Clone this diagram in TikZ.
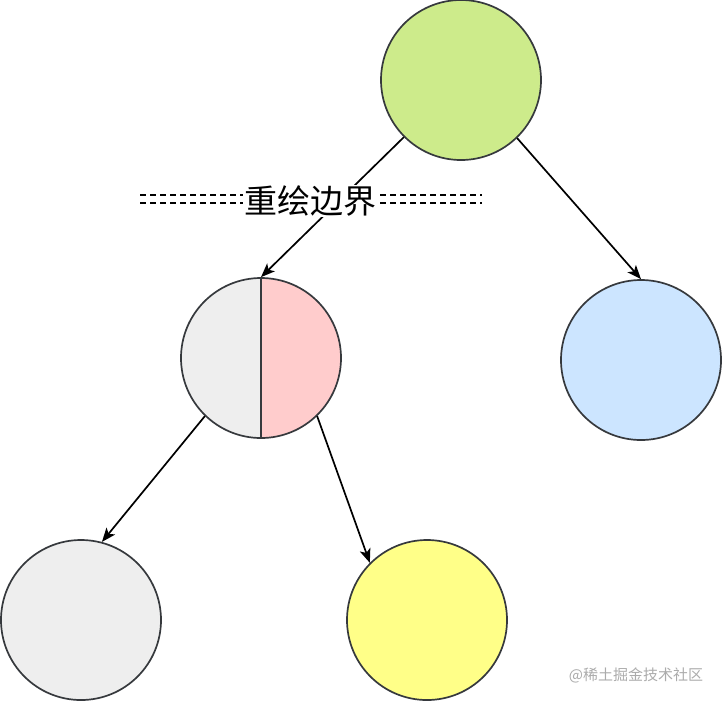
\documentclass[tikz,border=0pt]{standalone}
\usepackage{fontspec}
\newfontfamily\cjk{Noto Sans CJK SC}
\usetikzlibrary{positioning,arrows.meta}
\definecolor{lgreen}{HTML}{CDEB8B}
\definecolor{lpink}{HTML}{FFCCCC}
\definecolor{lgray}{HTML}{EEEEEE}
\definecolor{lblue}{HTML}{CCE5FF}
\definecolor{lyellow}{HTML}{FFFF88}
\definecolor{rim}{HTML}{36393D}
\definecolor{wmark}{HTML}{ABABAB}
\tikzset{
  layer/.style={circle,draw=rim,line width=1.7pt,minimum size=160pt,inner sep=0pt},
  split/.style={layer,fill=lgray,
    path picture={\fill[lpink] (path picture bounding box.north) rectangle (path picture bounding box.south east);
      \draw[rim,line width=1.7pt] (path picture bounding box.north) -- (path picture bounding box.south);}},
  ar/.style={-{Stealth[length=14pt,width=11pt,inset=3.5pt]},line width=1.7pt,draw=black},
  bound/.style={dashed,dash pattern=on 6pt off 4pt,line width=1.4pt},
  lab/.style={fill=white,inner sep=1pt,font=\cjk\fontsize{33}{38}\selectfont},
}
\begin{document}
\begin{tikzpicture}[x=1pt,y=-1pt]
\useasboundingbox (0,0) rectangle (722,702);
% ---- tree of layers ----
\node[layer,fill=lgreen] (root) at (461,80) {};
\node[split] (mid) at (261,358) {};
\node[layer,fill=lblue] (right) at (641,360) {};
\node[layer,fill=lgray] (leaf1) at (81,620) {};
\node[layer,fill=lyellow] (leaf2) at (427,620) {};
\draw[ar] (root.-135) -- (mid.north);
\draw[ar] (root.-46) -- (right.north);
\draw[ar] (mid.-134) -- (leaf1.75);
\draw[ar] (mid.-46) -- (leaf2.135);

% ---- repaint boundary ----
\coordinate (bl) at (140,195);
\coordinate (br) at (482,195);
\draw[bound] (bl) -- (br);
\draw[bound] ([yshift=-8pt]bl) -- ([yshift=-8pt]br);
\node[lab] (boundary) at (310,201) {重绘边界};

% ---- watermark ----
\node[font=\cjk\fontsize{15}{18}\selectfont,text=wmark] (wm) at (636,675) {@稀土掘金技术社区};
\end{tikzpicture}
\end{document}
